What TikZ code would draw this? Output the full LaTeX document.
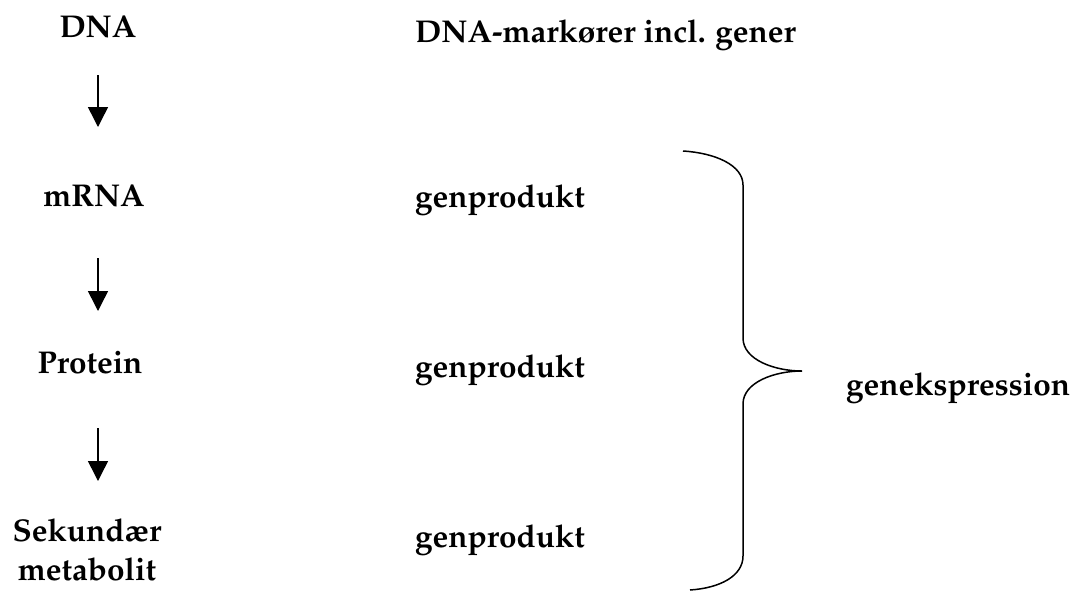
\documentclass[tikz,border=0pt]{standalone}
\usepackage[T1]{fontenc}
\usepackage{mathpazo}
\usetikzlibrary{arrows.meta}
\begin{document}
\begin{tikzpicture}[x=1pt,y=-1pt,
  lbl/.style={font=\fontsize{31.5}{39}\selectfont\bfseries, inner sep=0pt, align=center, anchor=base},
  lft/.style={lbl, anchor=base west},
  flow/.style={line width=1.5pt, -{Triangle[width=20pt,length=20pt]}},
  brace/.style={line width=1.5pt}]
\useasboundingbox (0,0) rectangle (1076,590);
\node[lbl] (dna) at (98,37) {DNA};
\node[lbl] (mrna) at (94,206) {mRNA};
\node[lbl] (prot) at (90,373) {Protein};
\node[lbl, anchor=north] (sek) at (87,519) {Sekund\ae r\\metabolit};
\coordinate (a1s) at (98,75);  \coordinate (a1e) at (98,127);
\coordinate (a2s) at (98,258); \coordinate (a2e) at (98,311);
\coordinate (a3s) at (98,428); \coordinate (a3e) at (98,481);
\draw[flow] (a1s) -- (a1e);
\draw[flow] (a2s) -- (a2e);
\draw[flow] (a3s) -- (a3e);
\node[lft] (mark) at (415,42) {DNA-mark\o rer incl. gener};
\node[lft] (gp1) at (415,207) {genprodukt};
\node[lft] (gp2) at (415,377) {genprodukt};
\node[lft] (gp3) at (415,547) {genprodukt};
\node[lft] (gex) at (846,395) {genekspression};
\coordinate (btop) at (683,151);
\coordinate (btip) at (802,371);
\coordinate (bbot) at (690,590);
\draw[brace] (btop) .. controls (715,153) and (743,165) .. (743,185)
  -- (743,338) .. controls (743,360) and (775,371) .. (btip)
  .. controls (775,371) and (743,382) .. (743,404)
  -- (743,556) .. controls (743,576) and (720,588) .. (bbot);
\end{tikzpicture}
\end{document}
